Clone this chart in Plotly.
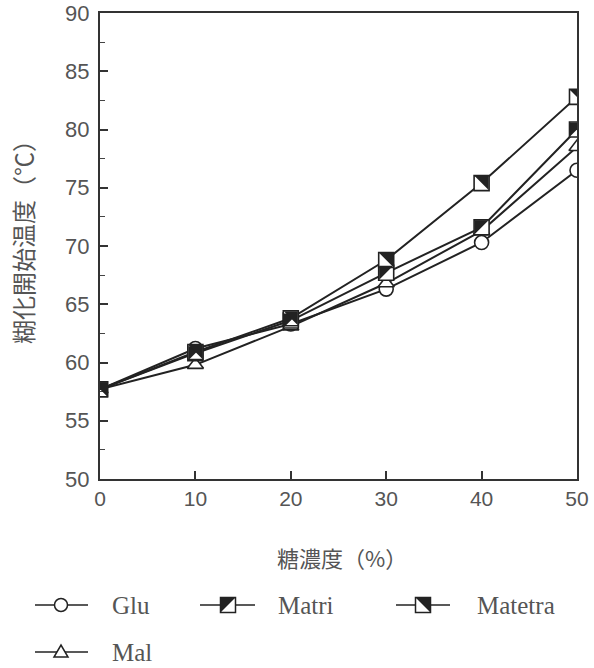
import plotly.graph_objects as go

# Sugar concentration (%) and gelatinization onset temperature (°C)
conc = [0, 10, 20, 30, 40, 50]
glu = [57.7, 61.2, 63.3, 66.3, 70.3, 76.5]
mal = [57.7, 59.8, 63.1, 66.8, 71.3, 78.5]
matri = [57.7, 60.8, 63.6, 67.7, 71.6, 80.0]
matetra = [57.7, 60.9, 63.8, 68.8, 75.4, 82.8]

names = ["Glu", "Matri", "Matetra", "Mal"]
y_ticks = [50, 55, 60, 65, 70, 75, 80, 85, 90]
x_ticks = [0, 10, 20, 30, 40, 50]

INK = "#222222"
GREY = "#555555"
W, H = 594, 668
ML, MR, MT, MB = 100, 17, 13, 189
PW, PH = W - ML - MR, H - MT - MB

fig = go.Figure()

series = [
    ("Glu", glu, "circle", 14),
    ("Mal", mal, "triangle-up", 14),
    ("Matri", matri, "square", 15),
    ("Matetra", matetra, "square", 15),
]
for name, vals, sym, size in series:
    fig.add_trace(go.Scatter(
        x=conc, y=vals, name=name, mode="lines+markers",
        line=dict(color=INK, width=2),
        marker=dict(symbol=sym, size=size, color="white",
                    line=dict(color=INK, width=1.6)),
        showlegend=False,
    ))

# half-filled squares: dark triangle inside each square marker
h = 7
TRI_UL = f"M{-h},{h} L{h},{h} L{-h},{-h} Z"   # upper-left half
TRI_UR = f"M{-h},{h} L{h},{h} L{h},{-h} Z"    # upper-right half


def half_fill(xref, yref, xa, ya, path):
    return dict(type="path", xref=xref, yref=yref,
                xsizemode="pixel", ysizemode="pixel",
                xanchor=xa, yanchor=ya, path=path,
                fillcolor=INK, line=dict(width=0), layer="above")


shapes = []
for xv, yv in zip(conc, matri):
    shapes.append(half_fill("x", "y", xv, yv, TRI_UL))
for xv, yv in zip(conc, matetra):
    shapes.append(half_fill("x", "y", xv, yv, TRI_UR))


# legend built from pixel positions on the page
def px_x(px):
    return (px - ML) / PW


def px_y(py):
    return (H - MB - py) / PH


legend_rows = [
    ("Glu", 35, 88, 61, 110, 605),
    ("Matri", 200, 255, 228, 276, 605),
    ("Matetra", 396, 450, 423, 475, 605),
    ("Mal", 35, 88, 61, 110, 652),
]
annotations = []
for name, x0, x1, xc, xt, yc in legend_rows:
    shapes.append(dict(type="line", xref="paper", yref="paper",
                       x0=px_x(x0), x1=px_x(x1), y0=px_y(yc), y1=px_y(yc),
                       line=dict(color=INK, width=1.6), layer="above"))
    xa, ya = px_x(xc), px_y(yc)
    common = dict(xref="paper", yref="paper", xsizemode="pixel",
                  ysizemode="pixel", xanchor=xa, yanchor=ya,
                  fillcolor="white", line=dict(color=INK, width=1.5),
                  layer="above")
    if name == "Glu":
        shapes.append(dict(type="circle", x0=-6.5, x1=6.5, y0=-6.5, y1=6.5, **common))
    elif name == "Mal":
        shapes.append(dict(type="path", path="M-7,-5 L7,-5 L0,7 Z", **common))
    else:
        shapes.append(dict(type="rect", x0=-7.5, x1=7.5, y0=-7.5, y1=7.5, **common))
        shapes.append(half_fill("paper", "paper", xa, ya,
                                TRI_UL if name == "Matri" else TRI_UR))
    annotations.append(dict(xref="paper", yref="paper", x=px_x(xt), y=ya,
                            xanchor="left", yanchor="middle", showarrow=False,
                            text=name,
                            font=dict(family="Liberation Serif", size=25, color=GREY)))

# axis titles
annotations.append(dict(xref="paper", yref="paper", x=px_x(22), y=px_y(236),
                        text="糊化開始温度（℃）", textangle=-90, showarrow=False,
                        xanchor="center", yanchor="middle",
                        font=dict(family="Noto Sans CJK JP", size=24, color=GREY)))
annotations.append(dict(xref="paper", yref="paper", x=px_x(342), y=px_y(557),
                        text="糖濃度（%）", showarrow=False,
                        xanchor="center", yanchor="middle",
                        font=dict(family="Noto Sans CJK JP", size=22, color=GREY)))

fig.update_layout(
    width=W, height=H,
    margin=dict(l=ML, r=MR, t=MT, b=MB),
    paper_bgcolor="white", plot_bgcolor="white",
    shapes=shapes, annotations=annotations,
    xaxis=dict(range=[0, 50], tickvals=x_ticks, ticks="inside", ticklen=8,
               tickwidth=1.5, tickcolor="#333", showline=True, linecolor="#333",
               linewidth=2, mirror=True, showgrid=False, zeroline=False,
               automargin=False, ticklabelstandoff=0,
               tickfont=dict(family="Liberation Sans", size=21, color=GREY)),
    yaxis=dict(range=[50, 90], tickvals=y_ticks, ticks="inside", ticklen=8,
               tickwidth=1.5, tickcolor="#333", showline=True, linecolor="#333",
               linewidth=2, mirror=True, showgrid=False, zeroline=False,
               automargin=False, ticklabelstandoff=4,
               minor=dict(dtick=2.5, ticks="inside", ticklen=5, tickwidth=1.2,
                          tickcolor="#444"),
               tickfont=dict(family="Liberation Sans", size=22, color=GREY)),
)

fig.write_html("out.html")
